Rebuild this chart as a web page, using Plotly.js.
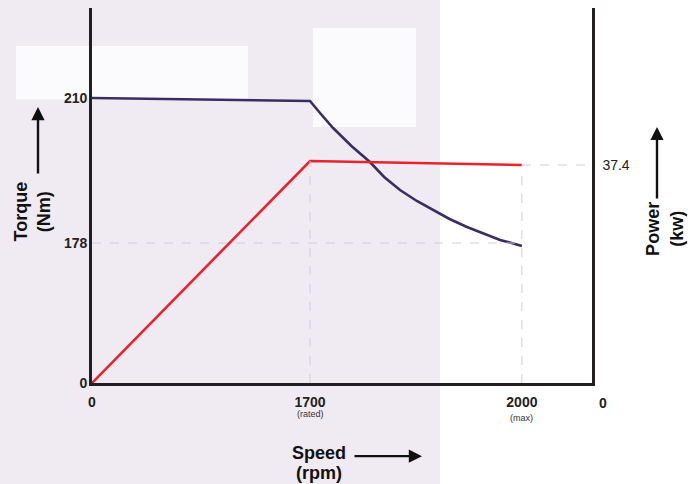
<!DOCTYPE html>
<html>
<head>
<meta charset="utf-8">
<script src="https://cdn.plot.ly/plotly-3.0.1.min.js"></script>
<style>html,body{margin:0;padding:0;background:#fff;}#chart{width:695px;height:484px;}</style>
</head>
<body>
<div id="chart"></div>
<script>
// Schematic chart: positions are on the drawing's own (non-linear) scales.
// Speed axis: 1 unit = rated speed position.
const speedTickLabels = ['0', '1700', '2000'];
const speedTickSub    = ['', '(rated)', '(max)'];
const speedTickPos    = [0, 1.0, 1.972];

// Torque axis (schematic heights)
const torqueTickLabels = ['0', '178', '210'];
const torqueTickPos    = [0, 1.40, 2.85];

// Power axis (schematic heights)
const powerTickLabels = ['0', '37.4'];
const powerTickPos    = [0, 2.18];

// Torque curve
const torqueX = [0, 1.0, 1.05, 1.106, 1.19, 1.275, 1.34, 1.413, 1.49, 1.564, 1.64, 1.72, 1.80, 1.872, 1.925, 1.972];
const torqueY = [2.85, 2.82, 2.69, 2.55, 2.37, 2.21, 2.06, 1.93, 1.82, 1.73, 1.64, 1.56, 1.49, 1.43, 1.40, 1.37];

// Power curve
const powerX = [0, 1.0, 1.972];
const powerY = [0, 2.22, 2.18];

const axisColor = '#231f20';
const gridColor = '#d2cbd8';

const traces = [
  {x: torqueX, y: torqueY, type: 'scatter', mode: 'lines', name: 'Torque',
   line: {color: '#3a2d63', width: 2.6}, hoverinfo: 'skip'},
  {x: powerX, y: powerY, type: 'scatter', mode: 'lines', name: 'Power', yaxis: 'y2',
   line: {color: '#e8232b', width: 2.6}, hoverinfo: 'skip'}
];

const shapes = [
  // background approximation
  {type: 'rect', xref: 'paper', yref: 'paper', x0: -0.19, x1: 0.696, y0: -0.28, y1: 1.03,
   fillcolor: '#f0ebf2', line: {width: 0}, layer: 'below'},
  {type: 'rect', xref: 'paper', yref: 'paper', x0: -0.152, x1: 0.312, y0: 0.757, y1: 0.899,
   fillcolor: '#fbfafc', line: {width: 0}, layer: 'below'},
  {type: 'rect', xref: 'paper', yref: 'paper', x0: 0.442, x1: 0.648, y0: 0.683, y1: 0.947,
   fillcolor: '#fbfafc', line: {width: 0}, layer: 'below'},
  // dashed guide lines
  {type: 'line', xref: 'x', yref: 'y', x0: speedTickPos[0], x1: speedTickPos[2],
   y0: torqueTickPos[1], y1: torqueTickPos[1], line: {color: gridColor, width: 1, dash: 'dash'}},
  {type: 'line', xref: 'x', yref: 'y', x0: speedTickPos[1], x1: speedTickPos[1],
   y0: 0, y1: powerY[1], line: {color: gridColor, width: 1, dash: 'dash'}},
  {type: 'line', xref: 'x', yref: 'y', x0: speedTickPos[2], x1: speedTickPos[2],
   y0: 0, y1: powerTickPos[1], line: {color: gridColor, width: 1, dash: 'dash'}},
  {type: 'line', xref: 'x', yref: 'y2', x0: speedTickPos[2], x1: 2.2936,
   y0: powerTickPos[1], y1: powerTickPos[1], line: {color: gridColor, width: 1, dash: 'dash'}}
];

const titleFont = {family: 'Liberation Sans, Arial, sans-serif', size: 18, color: '#111', weight: 'bold'};
const arrowStyle = {showarrow: true, arrowhead: 2, arrowsize: 1.1, arrowwidth: 2.4, arrowcolor: '#111', text: ''};

const annotations = [
  {xref: 'paper', yref: 'paper', x: -0.121, y: 0.456, text: '<b>Torque<br>(Nm)</b>', textangle: -90,
   showarrow: false, font: titleFont, xanchor: 'center', yanchor: 'middle'},
  Object.assign({xref: 'paper', yref: 'paper', x: -0.108, y: 0.736, ax: 0, ay: 68}, arrowStyle),
  {xref: 'paper', yref: 'paper', x: 1.146, y: 0.411, text: '<b>Power<br>(kw)</b>', textangle: -90,
   showarrow: false, font: titleFont, xanchor: 'center', yanchor: 'middle'},
  Object.assign({xref: 'paper', yref: 'paper', x: 1.13, y: 0.683, ax: 0, ay: 73}, arrowStyle),
  {xref: 'paper', yref: 'paper', x: 0.454, y: -0.187, text: '<b>Speed</b>',
   showarrow: false, font: titleFont, xanchor: 'center', yanchor: 'middle'},
  {xref: 'paper', yref: 'paper', x: 0.454, y: -0.24, text: '<b>(rpm)</b>',
   showarrow: false, font: titleFont, xanchor: 'center', yanchor: 'middle'},
  Object.assign({xref: 'paper', yref: 'paper', x: 0.66, y: -0.195, ax: -69, ay: 0}, arrowStyle),
  // power axis zero label
  {xref: 'paper', yref: 'paper', x: 1.022, y: -0.053, text: '<b>' + powerTickLabels[0] + '</b>',
   showarrow: false, font: {family: 'Liberation Sans, Arial, sans-serif', size: 14, color: '#222'},
   xanchor: 'center', yanchor: 'middle'}
];
// sub-labels under the speed ticks
speedTickSub.forEach((s, i) => {
  if (!s) return;
  annotations.push({xref: 'x', yref: 'paper', x: speedTickPos[i], y: i === 1 ? -0.083 : -0.093, text: s,
    showarrow: false, font: {family: 'Liberation Sans, Arial, sans-serif', size: 9, color: '#333'},
    xanchor: 'center', yanchor: 'middle'});
});

const layout = {
  width: 695, height: 484,
  margin: {l: 92, r: 103, t: 8, b: 101, pad: 0},
  paper_bgcolor: '#ffffff',
  plot_bgcolor: 'rgba(0,0,0,0)',
  showlegend: false,
  xaxis: {
    range: [0, 2.2936], showgrid: false, zeroline: false, showline: true,
    linecolor: axisColor, linewidth: 2.8, ticks: '',
    tickmode: 'array', tickvals: speedTickPos, ticktext: speedTickLabels,
    tickfont: {family: 'Liberation Sans, Arial, sans-serif', size: 14, color: '#222', weight: 'bold'},
    ticklabelstandoff: 4, fixedrange: true
  },
  yaxis: {
    range: [0, 3.75], showgrid: false, zeroline: false, showline: true,
    linecolor: axisColor, linewidth: 2.8, ticks: '',
    tickmode: 'array', tickvals: torqueTickPos, ticktext: torqueTickLabels,
    tickfont: {family: 'Liberation Sans, Arial, sans-serif', size: 14, color: '#222', weight: 'bold'},
    ticklabelstandoff: -1, fixedrange: true
  },
  yaxis2: {
    range: [0, 3.75], overlaying: 'y', side: 'right', showgrid: false, zeroline: false, showline: true,
    linecolor: axisColor, linewidth: 2.6, ticks: '',
    tickmode: 'array', tickvals: [powerTickPos[1]], ticktext: [powerTickLabels[1]],
    tickfont: {family: 'Liberation Sans, Arial, sans-serif', size: 14, color: '#222'},
    ticklabelstandoff: 5, fixedrange: true
  },
  shapes: shapes,
  annotations: annotations
};

Plotly.newPlot('chart', traces, layout, {displayModeBar: false, staticPlot: true});
</script>
</body>
</html>
